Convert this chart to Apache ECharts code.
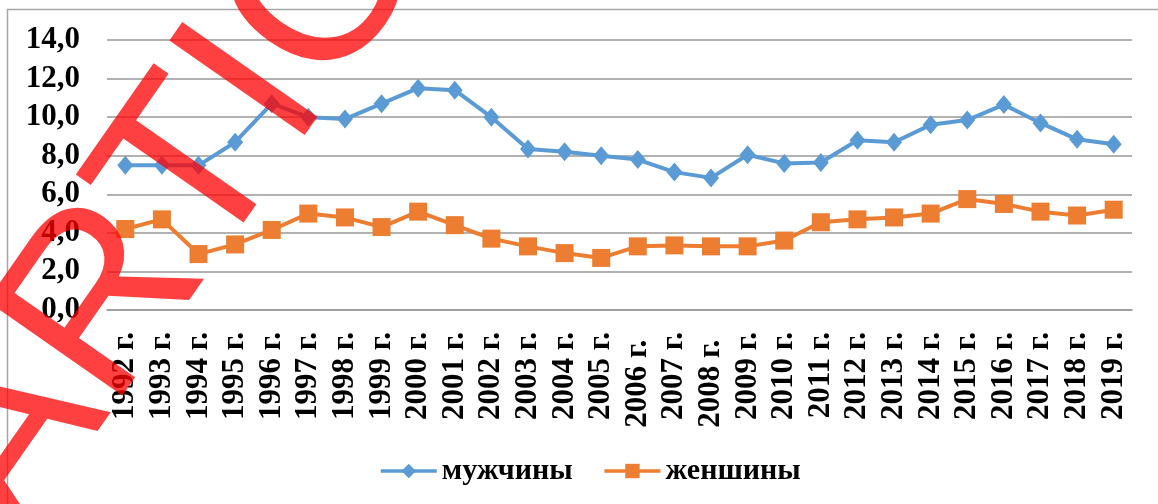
<!DOCTYPE html>
<html>
<head>
<meta charset="utf-8">
<style>
  html, body { margin: 0; padding: 0; background: #fff; }
  #chart { width: 1158px; height: 504px; }
</style>
<script src="https://cdn.jsdelivr.net/npm/echarts@6/dist/echarts.min.js"></script>
</head>
<body>
<div id="chart"></div>
<script>
const years = ['1992 г.', '1993 г.', '1994 г.', '1995 г.', '1996 г.', '1997 г.', '1998 г.',
  '1999 г.', '2000 г.', '2001 г.', '2002 г.', '2003 г.', '2004 г.', '2005 г.', '2006 г.',
  '2007 г.', '2008 г.', '2009 г.', '2010 г.', '2011 г.', '2012 г.', '2013 г.', '2014 г.',
  '2015 г.', '2016 г.', '2017 г.', '2018 г.', '2019 г.']

const men = [7.5, 7.5, 7.5, 8.7, 10.7, 10.0, 9.9, 10.7, 11.5, 11.4, 10.0, 8.35, 8.2, 8.0,
  7.8, 7.15, 6.85, 8.05, 7.6, 7.65, 8.8, 8.7, 9.6, 9.85, 10.65, 9.7, 8.85, 8.6]

const women = [4.2, 4.7, 2.9, 3.4, 4.15, 5.0, 4.8, 4.3, 5.1, 4.4, 3.7, 3.3, 2.95, 2.7,
  3.3, 3.35, 3.3, 3.3, 3.6, 4.55, 4.7, 4.8, 5.0, 5.75, 5.5, 5.1, 4.9, 5.2]

const seriesNames = ['мужчины', 'женшины']
const watermark = 'ARTICLE'

const font = '"Liberation Serif", "Times New Roman", serif'

const chart = echarts.init(document.getElementById('chart'))

const option = {
  backgroundColor: '#fff',
  animation: false,
  color: ['#5b9bd5', '#ed7d31'],
  grid: {
    left: 107,
    right: 26,
    top: 40,
    bottom: 194
  },
  legend: {
    data: seriesNames,
    bottom: 13,
    left: 374,
    itemWidth: 56,
    itemHeight: 18,
    itemGap: 30,
    lineStyle: { width: 3.5 },
    textStyle: {
      fontFamily: font,
      fontWeight: 'bold',
      fontSize: 30,
      color: '#000'
    }
  },
  xAxis: {
    type: 'category',
    data: years,
    boundaryGap: true,
    axisLine: { lineStyle: { color: '#999', width: 1.5 } },
    axisTick: { show: false },
    axisLabel: {
      rotate: 90,
      interval: 0,
      margin: 22,
      fontFamily: font,
      fontWeight: 'bold',
      fontSize: 31,
      color: '#000',
      // in the picture the 2006 and 2008 labels sit a bit lower
      formatter: (v) => (v === '2006 г.' || v === '2008 г.') ? v + ' ' : v
    }
  },
  yAxis: {
    type: 'value',
    min: 0,
    max: 14,
    interval: 2,
    axisLine: { show: false },
    axisTick: { show: false },
    splitLine: { lineStyle: { color: '#999', width: 1.5 } },
    axisLabel: {
      margin: 27,
      fontFamily: font,
      fontWeight: 'bold',
      fontSize: 31,
      color: '#000',
      formatter: (v) => v.toFixed(1).replace('.', ',')
    }
  },
  series: [
    {
      name: seriesNames[0],
      type: 'line',
      data: men,
      symbol: 'diamond',
      symbolSize: [16, 19],
      lineStyle: { width: 4 },
      z: 3
    },
    {
      name: seriesNames[1],
      type: 'line',
      data: women,
      symbol: 'rect',
      symbolSize: 18,
      lineStyle: { width: 4 },
      z: 2
    }
  ],
  graphic: [
    {
      type: 'rect',
      shape: { x: 7.5, y: 9.5, width: 1200, height: 600 },
      style: { fill: 'none', stroke: '#a6a6a6', lineWidth: 1.5 },
      silent: true,
      z: -1
    },
    {
      type: 'text',
      x: -35,
      y: 505,
      rotation: 55 * Math.PI / 180,
      silent: true,
      z: 100,
      style: {
        text: watermark,
        fontFamily: '"Liberation Sans", Arial, sans-serif',
        fontSize: 240,
        fill: 'rgba(255, 0, 0, 0.75)',
        align: 'left',
        verticalAlign: 'middle'
      }
    }
  ]
}

chart.setOption(option)
</script>
</body>
</html>
